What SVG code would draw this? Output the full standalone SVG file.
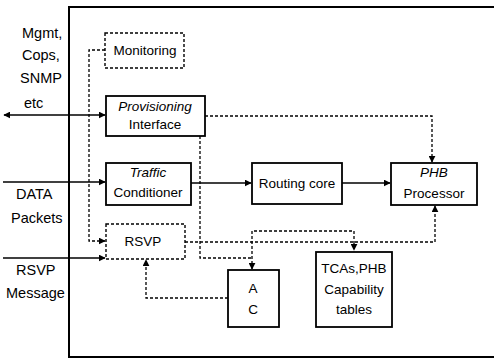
<svg xmlns="http://www.w3.org/2000/svg" width="494" height="360" viewBox="0 0 494 360">
  <defs>
    <marker id="arr" viewBox="0 0 10 10" refX="9" refY="5" markerWidth="7" markerHeight="7" markerUnits="userSpaceOnUse" orient="auto-start-reverse">
      <path d="M0,0 L10,5 L0,10 z" fill="#000"/>
    </marker>
    <style>
      text { font-family: "Liberation Sans", Arial, sans-serif; fill: #000; }
      .lbl { font-size: 14.5px; }
      .in { font-size: 13.5px; text-anchor: middle; }
      .it { font-style: italic; }
      .box { fill: #fff; stroke: #000; stroke-width: 1.8; }
      .dbox { fill: #fff; stroke: #000; stroke-width: 1.4; stroke-dasharray: 3 2; }
      .solid { fill: none; stroke: #000; stroke-width: 1.6; }
      .dash { fill: none; stroke: #000; stroke-width: 1.3; stroke-dasharray: 3 2; }
      .frame { fill: none; stroke: #000; stroke-width: 2; }
    </style>
  </defs>

  <rect width="494" height="360" fill="#fff"/>

  <!-- router frame -->
  <path class="frame" d="M494,7 H69 V357 H494"/>

  <!-- external labels -->
  <g id="ext-labels" class="lbl">
    <text x="22" y="38">Mgmt,</text>
    <text x="22" y="60">Cops,</text>
    <text x="20" y="83">SNMP</text>
    <text x="24" y="108">etc</text>
    <text x="16" y="199">DATA</text>
    <text x="11" y="223">Packets</text>
    <text x="16" y="275">RSVP</text>
    <text x="6" y="298">Message</text>
  </g>

  <!-- connectors -->
  <g id="connectors">
    <path class="solid" d="M4,115 H105" marker-start="url(#arr)" marker-end="url(#arr)"/>
    <path class="solid" d="M3,182 H105" marker-end="url(#arr)"/>
    <path class="solid" d="M3,258 H105" marker-end="url(#arr)"/>
    <path class="solid" d="M191,183 H251" marker-end="url(#arr)"/>
    <path class="solid" d="M342,183 H390" marker-end="url(#arr)"/>
    <path class="dash" d="M105,50 H89 V241 H105" marker-end="url(#arr)"/>
    <path class="dash" d="M205,116 H432 V162" marker-end="url(#arr)"/>
    <path class="dash" d="M200,136 V258 H252"/>
    <path class="dash" d="M252,269 V231 H354 V250" marker-start="url(#arr)" marker-end="url(#arr)"/>
    <path class="dash" d="M185,242 H435 V206" marker-end="url(#arr)"/>
    <path class="dash" d="M228,298 H146 V260" marker-end="url(#arr)"/>
  </g>

  <g id="monitoring">
    <rect class="dbox" x="105" y="33" width="79" height="35"/>
    <text class="in" x="145" y="55">Monitoring</text>
  </g>

  <g id="provisioning">
    <rect class="box" x="106" y="96" width="99" height="40"/>
    <text class="in it" x="155" y="111">Provisioning</text>
    <text class="in" x="155" y="129">Interface</text>
  </g>

  <g id="conditioner">
    <rect class="box" x="106" y="163" width="85" height="42"/>
    <text class="in it" x="148" y="177">Traffic</text>
    <text class="in" x="148" y="197">Conditioner</text>
  </g>

  <g id="routing-core">
    <rect class="box" x="252" y="163" width="90" height="41"/>
    <text class="in" x="297" y="188">Routing core</text>
  </g>

  <g id="phb">
    <rect class="box" x="391" y="163" width="86" height="42"/>
    <text class="in it" x="434" y="177">PHB</text>
    <text class="in" x="434" y="198">Processor</text>
  </g>

  <g id="rsvp">
    <rect class="dbox" x="106" y="224" width="79" height="35"/>
    <text class="in" x="143" y="246">RSVP</text>
  </g>

  <g id="ac">
    <rect class="box" x="228" y="270" width="51" height="57"/>
    <text class="in" x="253" y="293">A</text>
    <text class="in" x="253" y="314">C</text>
  </g>

  <g id="tcas">
    <rect class="box" x="316" y="252" width="76" height="75"/>
    <text class="in" x="354" y="273">TCAs,PHB</text>
    <text class="in" x="354" y="294">Capability</text>
    <text class="in" x="354" y="314">tables</text>
  </g>
</svg>
